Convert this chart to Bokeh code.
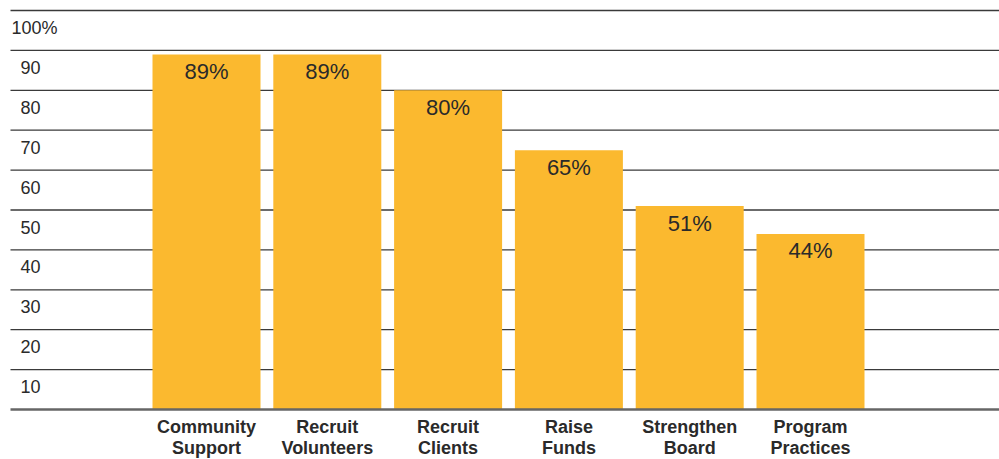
from bokeh.plotting import figure
from bokeh.models import Range1d
from bokeh.core.properties import value
from bokeh.embed import file_html
from bokeh.resources import INLINE

categories = ["Community\nSupport", "Recruit\nVolunteers", "Recruit\nClients",
              "Raise\nFunds", "Strengthen\nBoard", "Program\nPractices"]
values = [89, 89, 80, 65, 51, 44]
ticks = [10, 20, 30, 40, 50, 60, 70, 80, 90, 100]
tick_labels = ["10", "20", "30", "40", "50", "60", "70", "80", "90", "100%"]

W, H = 999, 459
# pixel geometry
PX_PER_UNIT_Y = 3.99   # pixels per percentage point
Y0_PX = 409            # pixel row of the 0 baseline (from top)
X0_PX = 206            # pixel centre of first bar
STEP_PX = 120.8        # pixels between bar centres

uy = 1.0 / PX_PER_UNIT_Y
ux = 1.0 / STEP_PX
y_top = Y0_PX * uy
y_bot = -(H - Y0_PX) * uy
x_left = -X0_PX * ux
x_right = (W - X0_PX) * ux

p = figure(width=W, height=H, output_backend="svg", toolbar_location=None,
           x_range=Range1d(x_left, x_right), y_range=Range1d(y_bot, y_top),
           min_border=0)
p.axis.visible = False
p.grid.visible = False
p.outline_line_color = None
p.background_fill_color = "white"
p.border_fill_color = "white"

FONT = value("Liberation Sans")
TXT = "#2a2a2a"
grid_x0 = x_left + 10 * ux

# gridlines
p.segment(x0=[grid_x0] * len(ticks), x1=[x_right] * len(ticks), y0=ticks, y1=ticks,
          line_color="#3a3a3a", line_width=1.3)

# bars
xs = list(range(len(values)))
p.vbar(x=xs, top=values, bottom=0, width=108 * ux, fill_color="#FBB92F", line_color=None)

# baseline
p.segment(x0=[grid_x0], x1=[x_right], y0=[0], y1=[0], line_color="#666666", line_width=2.6)

# tick labels (sit just under their gridline)
tick_x = [x_left + (11 if lab.endswith("%") else 20) * ux for lab in tick_labels]
p.text(x=tick_x, y=[t - 17 * uy for t in ticks], text=tick_labels,
       text_font=FONT, text_font_size="18px", text_color=TXT,
       text_align="left", text_baseline="middle")

# value labels
p.text(x=xs, y=[v - 17 * uy for v in values], text=[f"{v}%" for v in values],
       text_font=FONT, text_font_size="22px", text_color=TXT,
       text_align="center", text_baseline="middle")

# category labels
line1 = [c.split("\n")[0] for c in categories]
line2 = [c.split("\n")[1] for c in categories]
p.text(x=xs, y=[-17 * uy] * len(xs), text=line1, text_font=FONT, text_font_size="18px",
       text_font_style="bold", text_color=TXT, text_align="center", text_baseline="middle")
p.text(x=xs, y=[-38 * uy] * len(xs), text=line2, text_font=FONT, text_font_size="18px",
       text_font_style="bold", text_color=TXT, text_align="center", text_baseline="middle")

open("out.html", "w").write(file_html(p, INLINE))
